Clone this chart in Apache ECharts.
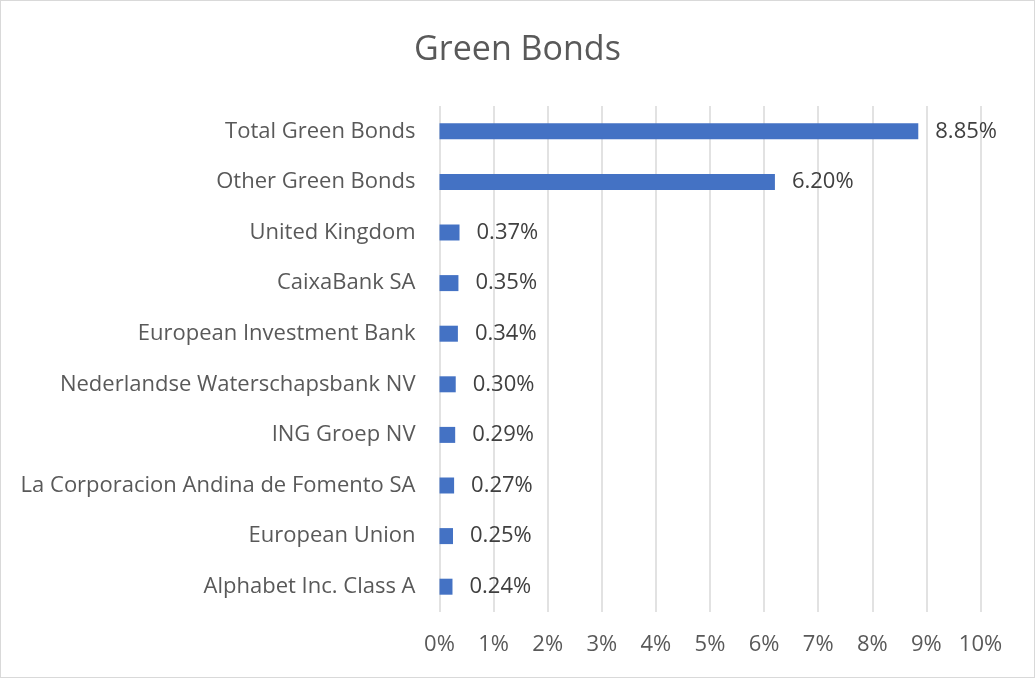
<!DOCTYPE html>
<html><head><meta charset="utf-8">
<script src="https://cdn.jsdelivr.net/npm/echarts@6/dist/echarts.min.js"></script>
<style>html,body{margin:0;padding:0;background:#fff}#c{width:1035px;height:678px;box-sizing:border-box;border:1.5px solid #d9d9d9}</style>
</head><body><div id="c"></div>
<script>
const categories = ["Total Green Bonds","Other Green Bonds","United Kingdom","CaixaBank SA","European Investment Bank","Nederlandse Waterschapsbank NV","ING Groep NV","La Corporacion Andina de Fomento SA","European Union","Alphabet Inc. Class A"];
const values = [8.85, 6.20, 0.37, 0.35, 0.34, 0.30, 0.29, 0.27, 0.25, 0.24];
const xTicks = [0,1,2,3,4,5,6,7,8,9,10];
const font = "'Open Sans', sans-serif";
const chart = echarts.init(document.getElementById('c'), null, {renderer:'canvas'});
chart.setOption({
  animation:false,
  title:{text:'Green Bonds',left:'center',top:27,textStyle:{fontFamily:font,fontSize:34,fontWeight:'normal',color:'#595959'}},
  grid:{left:438.5,right:53.5,top:105,bottom:65,containLabel:false},
  xAxis:{type:'value',min:0,max:10,interval:1,
    axisLine:{show:false},axisTick:{show:false},
    splitLine:{lineStyle:{color:'#d9d9d9',width:1.5}},
    axisLabel:{fontFamily:font,fontSize:22,color:'#595959',margin:22,formatter:v=>v+'%'}},
  yAxis:{type:'category',data:categories,inverse:true,
    axisLine:{show:false},axisTick:{show:false},
    axisLabel:{fontFamily:font,fontSize:22,color:'#595959',margin:24}},
  series:[{type:'bar',data:values,barWidth:16,
    itemStyle:{color:'#4472c4'},
    label:{show:true,position:'right',distance:17,fontFamily:font,fontSize:22,color:'#404040',formatter:p=>p.value.toFixed(2)+'%'}}]
});
</script></body></html>
